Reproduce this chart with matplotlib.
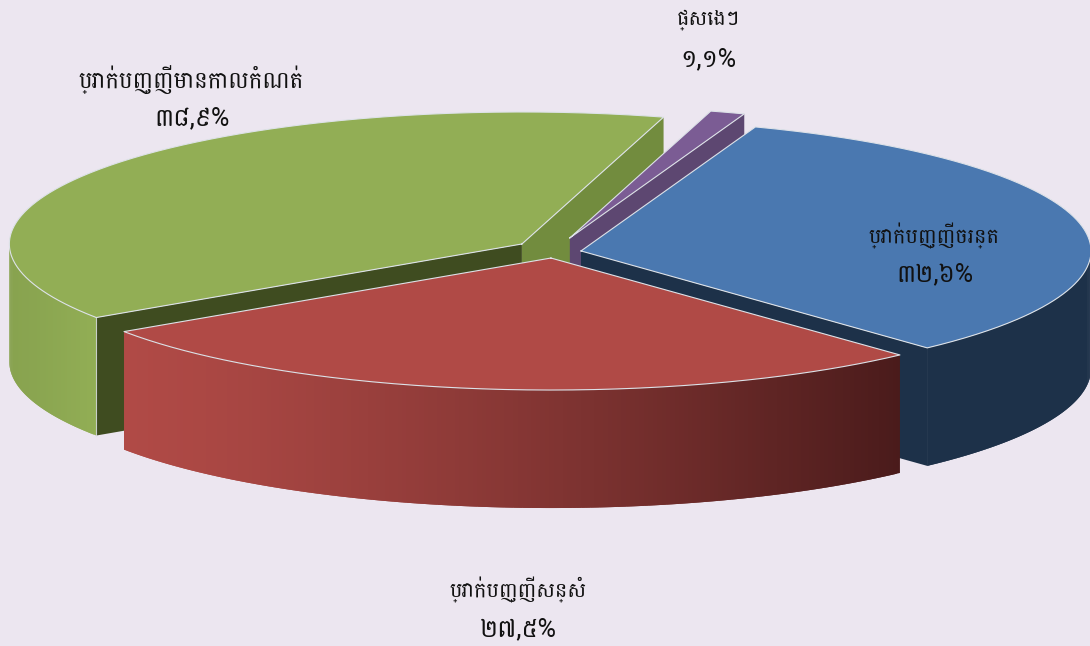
import numpy as np
import matplotlib
matplotlib.use("Agg")
import matplotlib.pyplot as plt
from matplotlib import font_manager as fm
from matplotlib.collections import PolyCollection

categories = ["ប្រាក់បញ្ញើចរន្ត", "ប្រាក់បញ្ញើសន្សំ", "ប្រាក់បញ្ញើមានកាលកំណត់", "ផ្សេងៗ"]
value_labels = ["៣២,៦%", "២៧,៥%", "៣៨,៩%", "១,១%"]
values = [32.6, 27.5, 38.9, 1.1]
explode_x = [0.058, 0.018, 0.073, 0.113]
explode_y = [0.040, 0.046, 0.103, 0.112]
radius_scale = [1.0, 1.008, 1.005, 1.0]
top_colors = ["#4A78B0", "#B04A46", "#92AE55", "#7B5C94"]
wall_left = ["#1D3149", "#B04A46", "#88A34F", "#5D4771"]
wall_right = ["#1D3149", "#4A1B1B", "#92AE55", "#5D4771"]
wall_edge = [True, False, True, False]
face_start = ["#1D3149", "#1D3149", "#3F4C20", "#5D4771"]
face_end = ["#1D3149", "#1D3149", "#728C3E", "#5D4771"]
category_sizes = [15, 15, 16.5, 15]
value_size = 18

W, H = 1090, 646
CX, CY, RX, RY, DEPTH = 552, 252, 510, 132, 118
START = 70.0
EDGE = "#DDE2E8"
BG = "#ECE6F0"

path = [f for f in fm.findSystemFonts() if f.endswith("Battambang-Regular.ttf")]
fm.fontManager.addfont(path[0])
fp = fm.FontProperties(fname=path[0])
fams = [fp.get_name(), "DejaVu Sans"]

fig = plt.figure(figsize=(W / 100, H / 100), dpi=100, facecolor=BG)
ax = fig.add_axes([0, 0, 1, 1])
ax.set_xlim(0, W)
ax.set_ylim(H, 0)
ax.axis("off")


def rgb(c):
    return np.array(matplotlib.colors.to_rgb(c))


angles = START - np.cumsum([0] + values) / sum(values) * 360
slices = []
for i in range(len(values)):
    t1, t2 = angles[i], angles[i + 1]
    mid = np.radians((t1 + t2) / 2)
    slices.append((i, t1, t2,
                   CX + explode_x[i] * RX * np.cos(mid),
                   CY - explode_y[i] * RY * np.sin(mid)))


def pt(i, x0, y0, deg):
    r = np.radians(deg)
    return x0 + RX * radius_scale[i] * np.cos(r), y0 - RY * np.sin(r)


def draw(s):
    i, t1, t2, x0, y0 = s
    ts = np.linspace(t1, t2, max(int(abs(t1 - t2) * 2), 4))
    xs, ys = pt(i, x0, y0, ts)
    if np.cos(np.radians(t1)) < 0:
        ax.fill([x0, xs[0], xs[0], x0], [y0, ys[0], ys[0] + DEPTH, y0 + DEPTH],
                color=face_start[i], lw=0)
    if np.cos(np.radians(t2)) > 0:
        ax.fill([x0, xs[-1], xs[-1], x0], [y0, ys[-1], ys[-1] + DEPTH, y0 + DEPTH],
                color=face_end[i], lw=0)
    vis = np.sin(np.radians(ts)) <= 0
    if vis.any():
        xv, yv = xs[vis], ys[vis]
        lo, hi = xv.min(), xv.max()
        polys, cols = [], []
        for k in range(len(xv) - 1):
            e = min(k + 2, len(xv) - 1)
            top = list(zip(xv[k:e + 1], yv[k:e + 1]))
            bot = list(zip(xv[k:e + 1], yv[k:e + 1] + DEPTH))[::-1]
            polys.append(top + bot)
            f = (((xv[k] + xv[k + 1]) / 2 - lo) / max(hi - lo, 1)) ** 1.3
            cols.append(rgb(wall_left[i]) * (1 - f) + rgb(wall_right[i]) * f)
        ax.add_collection(PolyCollection(polys, facecolors=cols, edgecolors="none"))
        if wall_edge[i]:
            ax.plot([xv[0]] * 2, [yv[0], yv[0] + DEPTH], color=EDGE, lw=0.8, alpha=0.8)
    ax.fill(np.r_[x0, xs], np.r_[y0, ys], color=top_colors[i], lw=0)
    ax.plot(np.r_[x0, xs, x0], np.r_[y0, ys, y0], color=EDGE, lw=0.8)


for idx in [2, 3, 0, 1]:
    draw(slices[idx])

label_pos = [(934, 236, 935, 274), (518, 590, 518, 629), (191, 80, 192, 118), (708, 20, 708, 59)]
for c, v, cs, (a, b, d, e) in zip(categories, value_labels, category_sizes, label_pos):
    ax.text(a, b, c, ha="center", va="center", fontsize=cs, color="#111111", family=fams)
    ax.text(d, e, v, ha="center", va="center", fontsize=value_size, color="#111111", family=fams)
fig.savefig("out.png", dpi=100, facecolor=BG)
